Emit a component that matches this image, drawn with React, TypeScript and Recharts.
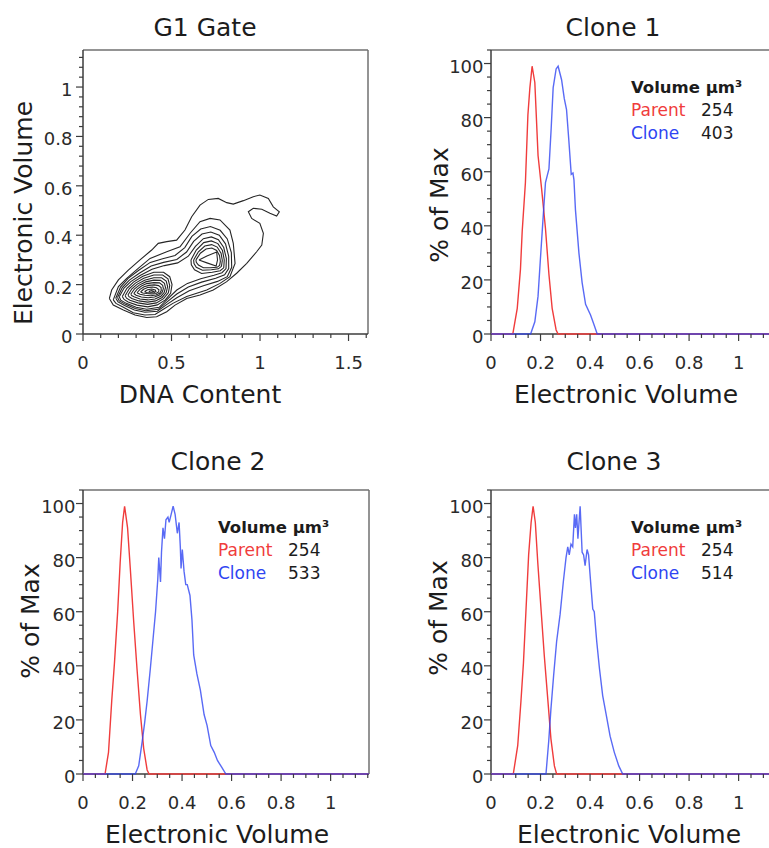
import { LineChart, Line, XAxis, YAxis, ReferenceLine } from 'recharts';

type Pt = [number, number];

// ---------- G1 gate: contour lines (DNA content, electronic volume) ----------
const g1Outer: Pt[] = [
  [0.149, 0.144], [0.162, 0.178], [0.2, 0.219], [0.256, 0.259], [0.322, 0.3], [0.388, 0.34],
  [0.425, 0.367], [0.473, 0.374], [0.529, 0.38], [0.576, 0.421], [0.614, 0.475], [0.661, 0.522],
  [0.708, 0.545], [0.764, 0.549], [0.812, 0.532], [0.849, 0.526], [0.906, 0.54], [0.962, 0.556],
  [0.999, 0.563], [1.047, 0.549], [1.075, 0.515], [1.109, 0.495], [1.094, 0.478], [1.056, 0.489],
  [1.01, 0.505], [0.962, 0.509], [0.934, 0.495], [0.953, 0.468], [0.999, 0.448], [1.019, 0.408],
  [1.01, 0.36], [0.981, 0.333], [0.925, 0.286], [0.868, 0.246], [0.812, 0.212], [0.736, 0.178],
  [0.661, 0.158], [0.586, 0.144], [0.52, 0.117], [0.473, 0.09], [0.416, 0.07], [0.36, 0.067],
  [0.294, 0.077], [0.228, 0.097], [0.171, 0.117],
];
const g1Ring2: Pt[] = [
  [0.171, 0.138], [0.2, 0.192], [0.247, 0.225], [0.312, 0.266], [0.379, 0.306], [0.473, 0.333],
  [0.548, 0.353], [0.605, 0.408], [0.661, 0.455], [0.718, 0.468], [0.774, 0.462], [0.83, 0.421],
  [0.849, 0.367], [0.859, 0.286], [0.83, 0.232], [0.774, 0.205], [0.699, 0.178], [0.586, 0.152],
  [0.51, 0.125], [0.454, 0.1], [0.407, 0.079], [0.35, 0.077], [0.284, 0.086], [0.228, 0.108],
  [0.186, 0.124],
];
const g1Bridge1: Pt[] = [
  [0.185, 0.145], [0.212, 0.19], [0.255, 0.225], [0.315, 0.258], [0.38, 0.29], [0.45, 0.305],
  [0.52, 0.318], [0.575, 0.35], [0.615, 0.395], [0.665, 0.425], [0.72, 0.435], [0.775, 0.42],
  [0.815, 0.385], [0.838, 0.33], [0.84, 0.27], [0.815, 0.232], [0.76, 0.213], [0.68, 0.195],
  [0.6, 0.175], [0.53, 0.147], [0.47, 0.118], [0.42, 0.092], [0.35, 0.088], [0.29, 0.097],
  [0.235, 0.115], [0.198, 0.13],
];
const g1Bridge2: Pt[] = [
  [0.195, 0.148], [0.222, 0.188], [0.262, 0.218], [0.32, 0.247], [0.385, 0.275], [0.455, 0.29],
  [0.53, 0.302], [0.585, 0.332], [0.625, 0.375], [0.672, 0.405], [0.722, 0.413], [0.77, 0.4],
  [0.805, 0.365], [0.823, 0.315], [0.823, 0.265], [0.8, 0.24], [0.75, 0.226], [0.67, 0.21],
  [0.595, 0.19], [0.53, 0.162], [0.475, 0.13], [0.425, 0.1], [0.355, 0.094], [0.295, 0.103],
  [0.24, 0.12], [0.205, 0.134],
];
const g1Bridge3: Pt[] = [
  [0.205, 0.151], [0.232, 0.186], [0.27, 0.212], [0.325, 0.238], [0.39, 0.262], [0.46, 0.277],
  [0.535, 0.288], [0.595, 0.315], [0.635, 0.355], [0.68, 0.386], [0.725, 0.393], [0.765, 0.382],
  [0.795, 0.35], [0.81, 0.305], [0.808, 0.265], [0.785, 0.248], [0.74, 0.238], [0.665, 0.224],
  [0.59, 0.205], [0.53, 0.178], [0.48, 0.143], [0.43, 0.108], [0.36, 0.1], [0.3, 0.108],
  [0.245, 0.124], [0.213, 0.137],
];
const g1Right1: Pt[] = [
  [0.61, 0.3], [0.64, 0.34], [0.682, 0.37], [0.725, 0.377], [0.762, 0.366], [0.788, 0.338],
  [0.798, 0.3], [0.795, 0.268], [0.775, 0.256], [0.73, 0.25], [0.67, 0.245], [0.63, 0.26], [0.612, 0.28],
];
const g1Right2: Pt[] = [
  [0.625, 0.3], [0.652, 0.333], [0.688, 0.356], [0.727, 0.362], [0.758, 0.352], [0.78, 0.327],
  [0.787, 0.298], [0.782, 0.274], [0.765, 0.264], [0.725, 0.26], [0.675, 0.258], [0.64, 0.27], [0.627, 0.285],
];
const g1Right3: Pt[] = [
  [0.638, 0.3], [0.663, 0.327], [0.695, 0.344], [0.728, 0.348], [0.755, 0.338], [0.771, 0.318],
  [0.776, 0.295], [0.772, 0.278], [0.757, 0.27], [0.72, 0.268], [0.68, 0.268], [0.652, 0.279], [0.64, 0.29],
];
const g1RightHole: Pt[] = [
  [0.655, 0.3], [0.7, 0.316], [0.755, 0.332], [0.76, 0.3], [0.752, 0.275], [0.7, 0.288],
];
const g1Left1: Pt[] = [
  [0.222, 0.152], [0.248, 0.185], [0.285, 0.21], [0.338, 0.234], [0.4, 0.25], [0.455, 0.25],
  [0.49, 0.232], [0.503, 0.2], [0.495, 0.165], [0.465, 0.138], [0.42, 0.118], [0.365, 0.11],
  [0.305, 0.117], [0.255, 0.13], [0.232, 0.14],
];
const g1Left2: Pt[] = [
  [0.238, 0.155], [0.262, 0.184], [0.296, 0.206], [0.343, 0.226], [0.4, 0.239], [0.45, 0.239],
  [0.48, 0.223], [0.49, 0.196], [0.482, 0.167], [0.455, 0.143], [0.415, 0.126], [0.365, 0.12],
  [0.31, 0.126], [0.265, 0.137], [0.246, 0.145],
];
const g1Left3: Pt[] = [
  [0.254, 0.158], [0.276, 0.183], [0.307, 0.202], [0.348, 0.218], [0.4, 0.228], [0.444, 0.228],
  [0.47, 0.214], [0.478, 0.192], [0.47, 0.168], [0.447, 0.148], [0.41, 0.134], [0.365, 0.129],
  [0.316, 0.134], [0.276, 0.144], [0.26, 0.151],
];
const g1Left4: Pt[] = [
  [0.27, 0.161], [0.29, 0.182], [0.318, 0.198], [0.354, 0.211], [0.4, 0.218], [0.438, 0.217],
  [0.46, 0.205], [0.466, 0.188], [0.459, 0.169], [0.44, 0.153], [0.407, 0.142], [0.366, 0.138],
  [0.322, 0.142], [0.288, 0.151], [0.275, 0.156],
];
const g1Left5: Pt[] = [
  [0.287, 0.164], [0.305, 0.181], [0.33, 0.194], [0.36, 0.204], [0.4, 0.208], [0.432, 0.207],
  [0.45, 0.197], [0.454, 0.184], [0.448, 0.17], [0.432, 0.158], [0.404, 0.15], [0.368, 0.147],
  [0.33, 0.15], [0.3, 0.157],
];
const g1Left6: Pt[] = [
  [0.305, 0.167], [0.322, 0.181], [0.345, 0.191], [0.372, 0.197], [0.403, 0.199], [0.427, 0.196],
  [0.441, 0.188], [0.442, 0.176], [0.433, 0.165], [0.412, 0.158], [0.383, 0.155], [0.35, 0.157], [0.322, 0.161],
];
const g1Left7: Pt[] = [
  [0.325, 0.17], [0.342, 0.181], [0.365, 0.188], [0.392, 0.19], [0.415, 0.187], [0.429, 0.179],
  [0.427, 0.17], [0.412, 0.164], [0.388, 0.162], [0.36, 0.164], [0.338, 0.166],
];
const g1Left8: Pt[] = [
  [0.348, 0.172], [0.365, 0.179], [0.388, 0.182], [0.408, 0.178], [0.412, 0.172], [0.4, 0.167],
  [0.378, 0.166], [0.358, 0.168],
];
const g1Left9: Pt[] = [
  [0.372, 0.173], [0.388, 0.176], [0.4, 0.173], [0.39, 0.169], [0.377, 0.17],
];

const g1Contours: Pt[][] = [
  g1Outer, g1Ring2, g1Bridge1, g1Bridge2, g1Bridge3,
  g1Right1, g1Right2, g1Right3, g1RightHole,
  g1Left1, g1Left2, g1Left3, g1Left4, g1Left5, g1Left6, g1Left7, g1Left8, g1Left9,
];

// ---------- histograms: electronic volume vs % of max ----------
const clone1Parent: Pt[] = [
  [0, 0], [0.088, 0], [0.106, 9.5], [0.119, 24], [0.126, 38], [0.139, 56], [0.149, 81], [0.157, 91],
  [0.166, 99], [0.177, 93], [0.19, 66], [0.204, 54], [0.22, 39], [0.234, 22], [0.247, 9.5],
  [0.263, 1.5], [0.271, 0], [1.155, 0],
];
const clone1Clone: Pt[] = [
  [0, 0], [0.16, 0], [0.177, 4.5], [0.19, 14], [0.199, 27], [0.209, 41], [0.22, 56], [0.234, 61],
  [0.243, 76], [0.251, 91], [0.263, 98], [0.271, 99], [0.285, 94], [0.296, 87], [0.305, 83],
  [0.314, 72], [0.324, 59], [0.331, 59.5], [0.335, 57], [0.341, 46], [0.355, 30], [0.368, 19],
  [0.382, 11], [0.402, 7], [0.415, 3.7], [0.429, 0], [1.155, 0],
];
const clone2Parent: Pt[] = [
  [0, 0], [0.089, 0], [0.103, 8], [0.116, 27], [0.127, 41], [0.14, 60], [0.15, 78], [0.16, 93],
  [0.168, 99], [0.18, 91], [0.191, 76], [0.205, 56], [0.218, 39], [0.232, 22], [0.245, 9.5],
  [0.259, 1.5], [0.267, 0], [1.155, 0],
];
const clone2Clone: Pt[] = [
  [0, 0], [0.211, 0], [0.225, 3], [0.239, 12], [0.249, 19], [0.259, 27], [0.272, 39], [0.283, 50],
  [0.293, 60], [0.302, 72], [0.306, 80], [0.313, 71], [0.317, 82], [0.323, 91], [0.329, 87],
  [0.335, 94], [0.343, 95], [0.348, 93], [0.356, 96], [0.364, 99], [0.372, 96], [0.381, 89],
  [0.388, 93], [0.393, 84], [0.396, 76], [0.401, 83], [0.408, 75], [0.415, 70], [0.421, 70],
  [0.432, 66], [0.44, 57], [0.447, 44], [0.46, 37], [0.474, 31], [0.489, 22], [0.501, 18],
  [0.516, 10.5], [0.53, 8], [0.543, 5], [0.56, 2.5], [0.577, 0], [1.155, 0],
];
const clone3Parent: Pt[] = [
  [0, 0], [0.09, 0], [0.108, 10.6], [0.121, 27], [0.131, 41], [0.141, 60], [0.152, 81], [0.162, 93],
  [0.17, 99], [0.179, 93], [0.189, 78], [0.202, 61], [0.215, 44], [0.229, 28], [0.242, 13],
  [0.256, 3], [0.265, 0], [1.155, 0],
];
const clone3Clone: Pt[] = [
  [0, 0], [0.222, 0], [0.233, 12], [0.242, 24], [0.253, 36.5], [0.265, 49], [0.279, 59], [0.292, 71],
  [0.303, 80], [0.31, 84], [0.316, 81], [0.323, 85], [0.33, 84], [0.337, 96], [0.341, 91],
  [0.346, 96], [0.351, 87], [0.36, 99], [0.368, 82], [0.374, 81], [0.38, 77], [0.388, 83],
  [0.394, 81], [0.404, 69], [0.411, 61], [0.417, 60], [0.427, 49], [0.438, 39], [0.451, 29],
  [0.465, 22], [0.481, 14], [0.498, 8], [0.516, 3], [0.532, 0], [1.155, 0],
];

const parentVolume = 254;
const cloneVolumes = [403, 533, 514];
const panelTitles = ['G1 Gate', 'Clone 1', 'Clone 2', 'Clone 3'];

// ticks
const g1XMajor = [0, 0.5, 1, 1.5];
const g1YMajor = [0, 0.2, 0.4, 0.6, 0.8, 1];
const histXMajor = [0, 0.2, 0.4, 0.6, 0.8, 1];
const histYMajor = [0, 20, 40, 60, 80, 100];

const steps = (max: number, step: number) =>
  Array.from({ length: Math.round(max / step) + 1 }, (_, i) => +(i * step).toFixed(4));

const g1XTicks = steps(1.6, 0.1);
const g1YTicks = steps(1.12, 0.04);
const histXTicks = steps(1.15, 0.05);
const histYTicks = steps(105, 5);

const FONT = "'DejaVu Sans', Verdana, sans-serif";
const AXIS = '#3c3c3c';
const FRAME = '#707070';
const RED = '#f03c3c';
const BLUE = '#2f45f2';
const TXT = '#1c1c1c';

const rows = (pts: Pt[]) => pts.map(([x, y]) => ({ x, y }));
const loop = (pts: Pt[]) => rows([...pts, pts[0]]);
const isMajor = (v: number, majors: number[]) => majors.some((m) => Math.abs(m - v) < 1e-6);

function XTick(props: any) {
  const { x, y, payload, majors } = props;
  const major = isMajor(payload.value, majors);
  return (
    <g>
      <line x1={x} x2={x} y1={y} y2={y + (major ? 7 : 4)} stroke={AXIS} strokeWidth={1.2} />
      {major && (
        <text x={x} y={y + 35} textAnchor="middle" fontSize={18} fontFamily={FONT} fill="#2a2a2a">
          {String(payload.value)}
        </text>
      )}
    </g>
  );
}

function YTick(props: any) {
  const { x, y, payload, majors, gap } = props;
  const major = isMajor(payload.value, majors);
  return (
    <g>
      <line x1={x} x2={x - (major ? 7 : 4)} y1={y} y2={y} stroke={AXIS} strokeWidth={1.2} />
      {major && (
        <text x={x - gap} y={y + 9} textAnchor="end" fontSize={18} fontFamily={FONT} fill="#2a2a2a">
          {String(payload.value)}
        </text>
      )}
    </g>
  );
}

const axisLine = { stroke: AXIS, strokeWidth: 1.5 };

function GatePanel() {
  return (
    <div style={{ position: 'absolute', left: 3, top: 47 }}>
      <LineChart width={369} height={332} margin={{ top: 3, right: 4, bottom: 0, left: 0 }}>
        <XAxis dataKey="x" type="number" domain={[0, 1.61]} ticks={g1XTicks} interval={0}
          tickSize={0} tickMargin={0} tickLine={false} height={45} axisLine={axisLine}
          tick={<XTick majors={g1XMajor} />} />
        <YAxis type="number" domain={[0, 1.15]} ticks={g1YTicks} interval={0}
          tickSize={0} tickMargin={0} tickLine={false} width={80} axisLine={axisLine}
          tick={<YTick majors={g1YMajor} gap={10.5} />} />
        <ReferenceLine y={1.15} stroke={FRAME} strokeWidth={1.5} />
        <ReferenceLine x={1.61} stroke={FRAME} strokeWidth={1.5} />
        {g1Contours.map((c, i) => (
          <Line key={i} data={loop(c)} dataKey="y" type="linear" stroke="#262626" strokeWidth={1.1}
            dot={false} activeDot={false} isAnimationActive={false} />
        ))}
      </LineChart>
    </div>
  );
}

function HistPanel({ left, top, parent, clone }: { left: number; top: number; parent: Pt[]; clone: Pt[] }) {
  return (
    <div style={{ position: 'absolute', left: left - 80, top: top - 3 }}>
      <LineChart width={370} height={332} margin={{ top: 3, right: 4, bottom: 0, left: 0 }}>
        <XAxis dataKey="x" type="number" domain={[0, 1.155]} ticks={histXTicks} interval={0}
          tickSize={0} tickMargin={0} tickLine={false} height={45} axisLine={axisLine}
          tick={<XTick majors={histXMajor} />} />
        <YAxis type="number" domain={[0, 105]} ticks={histYTicks} interval={0}
          tickSize={0} tickMargin={0} tickLine={false} width={80} axisLine={axisLine}
          tick={<YTick majors={histYMajor} gap={7.5} />} />
        <ReferenceLine y={105} stroke={FRAME} strokeWidth={1.5} />
        <ReferenceLine x={1.155} stroke={FRAME} strokeWidth={1.5} />
        <Line data={rows(parent)} dataKey="y" type="linear" stroke={RED} strokeWidth={1.4}
          dot={false} activeDot={false} isAnimationActive={false} zIndex={600} />
        <Line data={rows(clone)} dataKey="y" type="linear" stroke={BLUE} strokeOpacity={0.8} strokeWidth={1.4}
          dot={false} activeDot={false} isAnimationActive={false} zIndex={601} />
      </LineChart>
    </div>
  );
}

function VolumeLegend({ x, y, clone }: { x: number; y: number; clone: number }) {
  return (
    <g fontFamily={FONT}>
      <text x={x} y={y} fontSize={16.5} fontWeight="bold" fill={TXT}>Volume μm³</text>
      <text x={x} y={y + 23} fontSize={17} fill={RED}>Parent</text>
      <text x={x + 70} y={y + 23} fontSize={17} fill={TXT}>{parentVolume}</text>
      <text x={x} y={y + 46} fontSize={17} fill={BLUE}>Clone</text>
      <text x={x + 70} y={y + 46} fontSize={17} fill={TXT}>{clone}</text>
    </g>
  );
}

function Labels() {
  const t = { fontFamily: FONT, fontSize: 25, fill: TXT, textAnchor: 'middle' as const };
  return (
    <svg width={769} height={848} style={{ position: 'absolute', left: 0, top: 0, pointerEvents: 'none' }}>
      <text x={205} y={36} {...t}>{panelTitles[0]}</text>
      <text x={613} y={36} {...t}>{panelTitles[1]}</text>
      <text x={218} y={470} {...t}>{panelTitles[2]}</text>
      <text x={614} y={470} {...t}>{panelTitles[3]}</text>

      <text x={200} y={403} {...t}>DNA Content</text>
      <text x={626} y={403} {...t}>Electronic Volume</text>
      <text x={217} y={843} {...t}>Electronic Volume</text>
      <text x={629} y={843} {...t}>Electronic Volume</text>

      <text x={32} y={213} transform="rotate(-90 32 213)" {...t}>Electronic Volume</text>
      <text x={448} y={205} transform="rotate(-90 448 205)" {...t}>% of Max</text>
      <text x={39} y={621} transform="rotate(-90 39 621)" {...t}>% of Max</text>
      <text x={447} y={618} transform="rotate(-90 447 618)" {...t}>% of Max</text>

      <VolumeLegend x={631} y={93} clone={cloneVolumes[0]} />
      <VolumeLegend x={218} y={533} clone={cloneVolumes[1]} />
      <VolumeLegend x={631} y={533} clone={cloneVolumes[2]} />
    </svg>
  );
}

export default function App() {
  return (
    <div style={{ position: 'absolute', left: 0, top: 0, width: 769, height: 848, overflow: 'hidden', background: '#fff' }}>
      <GatePanel />
      <HistPanel left={491} top={50} parent={clone1Parent} clone={clone1Clone} />
      <HistPanel left={83} top={490} parent={clone2Parent} clone={clone2Clone} />
      <HistPanel left={491} top={490} parent={clone3Parent} clone={clone3Clone} />
      <Labels />
    </div>
  );
}
